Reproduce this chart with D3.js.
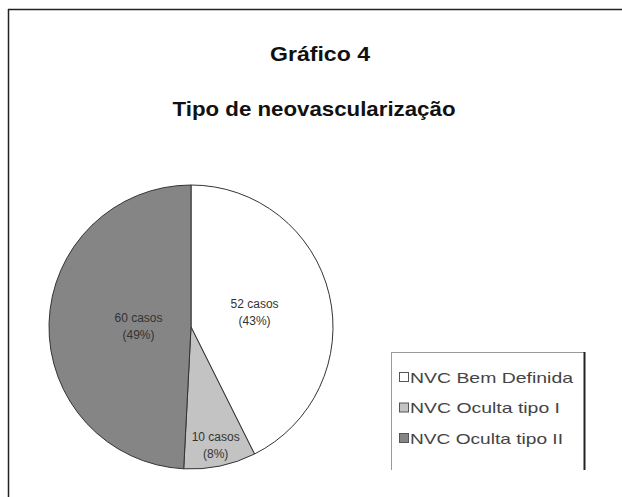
<!DOCTYPE html>
<html><head><meta charset="utf-8">
<script src="https://cdn.jsdelivr.net/npm/d3@7/dist/d3.min.js"></script>
<style>body{margin:0;background:#fff}svg{display:block}</style>
</head><body>
<script>
const categories = ["NVC Bem Definida", "NVC Oculta tipo I", "NVC Oculta tipo II"];
const values = [52, 10, 60];
const percentLabels = ["43%", "8%", "49%"];
const colors = ["#ffffff", "#c3c3c3", "#858585"];
const titleLines = ["Gráfico 4", "Tipo de neovascularização"];

const W = 622, H = 497;
const svg = d3.select("body").append("svg").attr("width", W).attr("height", H);
const font = "'Liberation Sans', Arial, sans-serif";

// frame
svg.append("line").attr("x1", 8.5).attr("x2", 8.5).attr("y1", 9).attr("y2", H).attr("stroke", "#222").attr("stroke-width", 1.5);
svg.append("line").attr("x1", 8).attr("x2", W).attr("y1", 9.5).attr("y2", 9.5).attr("stroke", "#222").attr("stroke-width", 1.5);

// titles
svg.append("text").attr("x", 320).attr("y", 61).attr("text-anchor", "middle")
  .attr("font-family", font).attr("font-weight", "bold").attr("font-size", 21).attr("fill", "#111")
  .attr("textLength", 100).attr("lengthAdjust", "spacingAndGlyphs").text(titleLines[0]);
svg.append("text").attr("x", 314).attr("y", 116).attr("text-anchor", "middle")
  .attr("font-family", font).attr("font-weight", "bold").attr("font-size", 21).attr("fill", "#111")
  .attr("textLength", 283).attr("lengthAdjust", "spacingAndGlyphs").text(titleLines[1]);

// clip
svg.append("defs").append("clipPath").attr("id", "plot").append("rect")
  .attr("x", 10).attr("y", 12).attr("width", W - 10).attr("height", 458);
const plot = svg.append("g").attr("clip-path", "url(#plot)");

const cx = 191, cy = 327, r = 142;
const pie = d3.pie().sort(null).value(d => d)(values);
const arc = d3.arc().innerRadius(0).outerRadius(r);
const g = plot.append("g").attr("transform", `translate(${cx},${cy})`);
g.selectAll("path").data(pie).join("path")
  .attr("d", arc).attr("fill", (d, i) => colors[i])
  .attr("stroke", "#333").attr("stroke-width", 1);

const labelRadius = [0.46, 0.85, 0.37];
const lbl = g.selectAll("g.lbl").data(pie).join("g").attr("class", "lbl")
  .attr("transform", (d, i) => {
    const a = d3.arc().innerRadius(0).outerRadius(2 * r * labelRadius[i]);
    const c = a.centroid(d);
    return `translate(${c[0]},${c[1]})`;
  });
lbl.append("text").attr("text-anchor", "middle").attr("y", -4)
  .attr("font-family", font).attr("font-size", 12).attr("fill", "#333")
  .text((d, i) => `${values[i]} casos`);
lbl.append("text").attr("text-anchor", "middle").attr("y", 13)
  .attr("font-family", font).attr("font-size", 12).attr("fill", "#333")
  .text((d, i) => `(${percentLabels[i]})`);

// legend
const lx = 391, ly = 352, lw = 193, lh = 130;
plot.append("rect").attr("x", lx + 0.5).attr("y", ly + 0.5).attr("width", lw).attr("height", lh)
  .attr("fill", "#fff").attr("stroke", "#999").attr("stroke-width", 1);
plot.append("line").attr("x1", lx + lw + 0.5).attr("x2", lx + lw + 0.5).attr("y1", ly).attr("y2", ly + lh)
  .attr("stroke", "#222").attr("stroke-width", 2);
const y = d3.scalePoint().domain(categories).range([ly + 25, ly + 86]);
const items = plot.selectAll("g.leg").data(categories).join("g").attr("class", "leg")
  .attr("transform", d => `translate(${lx + 8},${y(d)})`);
items.append("rect").attr("x", 0.5).attr("y", -4.5).attr("width", 9).attr("height", 9)
  .attr("fill", (d, i) => colors[i]).attr("stroke", "#555");
items.append("text").attr("x", 11).attr("y", 5.5).attr("font-family", font).attr("font-size", 15)
  .attr("fill", "#444").attr("textLength", (d, i) => [163, 150, 153][i]).attr("lengthAdjust", "spacingAndGlyphs")
  .text(d => d);
</script>
</body></html>
